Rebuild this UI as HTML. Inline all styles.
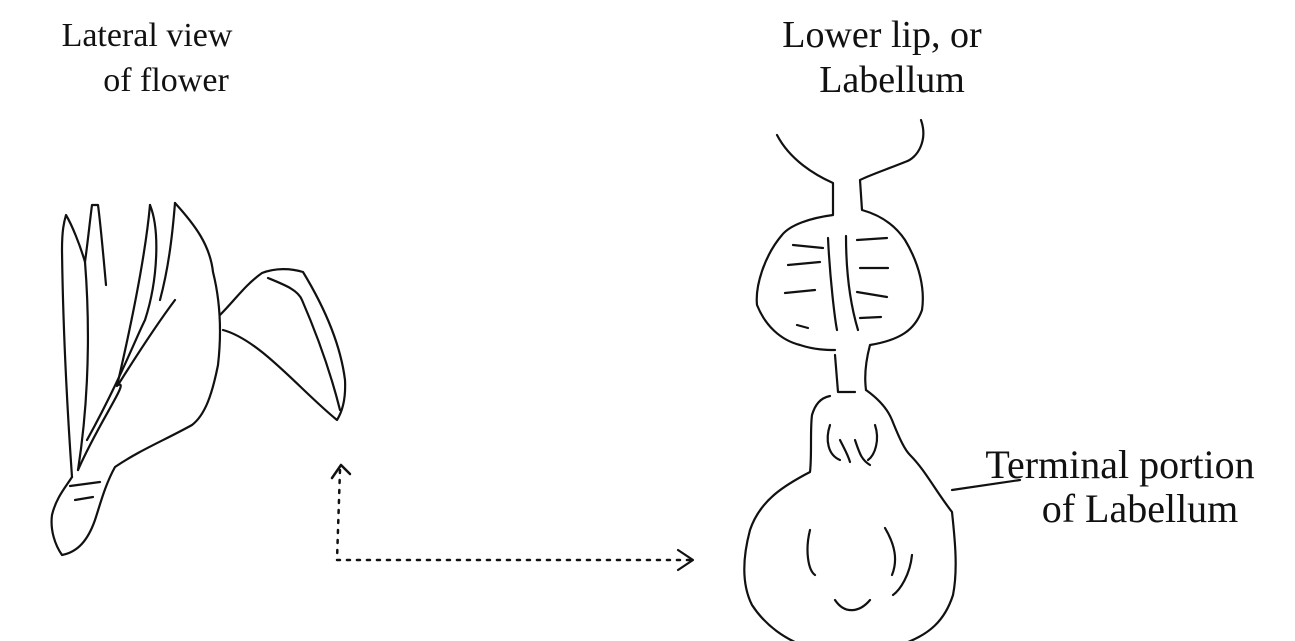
<!DOCTYPE html>
<html><head><meta charset="utf-8"><style>
html,body{margin:0;padding:0;background:#fff}
svg{display:block}
text{font-family:"Liberation Serif",serif;font-size:33px;fill:#111}
</style></head><body>
<svg width="1295" height="641" viewBox="0 0 1295 641">
<g>
<text x="147" y="46" text-anchor="middle" style="font-size:34px">Lateral view</text>
<text x="166" y="91" text-anchor="middle" style="font-size:34px">of flower</text>
</g>
<g style="font-size:38px">
<text x="882" y="47" text-anchor="middle" style="font-size:38px">Lower lip, or</text>
<text x="892" y="92" text-anchor="middle" style="font-size:38px">Labellum</text>
</g>
<g>
<text x="1120" y="478" text-anchor="middle" style="font-size:40px">Terminal portion</text>
<text x="1140" y="522" text-anchor="middle" style="font-size:40px">of Labellum</text>
</g>
<g fill="none" stroke="#111" stroke-width="2.2" stroke-linecap="round" stroke-linejoin="round">
<g>
<path d="M175,203 C195,225 210,245 213,272 C220,300 222,330 218,365 C212,395 205,415 192,425 C165,440 140,450 115,467 C105,485 100,505 95,520 C88,540 78,552 62,555 C55,545 50,530 52,515 C56,498 65,488 72,477"/>
<path d="M72,477 C68,420 63,330 62,250 C62,230 64,222 66,215 C72,225 80,245 85,262 C88,300 92,380 78,470"/>
<path d="M85,262 C88,240 90,220 92,205 L98,205 C100,220 102,240 106,285"/>
<path d="M78,470 C100,420 130,380 118,385 M150,205 C145,260 130,330 117,386"/>
<path d="M150,205 C160,230 158,280 145,320 C135,340 120,380 87,440"/>
<path d="M118,385 C140,350 160,320 175,300 M175,203 C172,240 168,270 160,300"/>
<path d="M70,486 L100,482 M75,500 L93,497"/>
<path d="M220,315 C235,300 245,285 262,273 C275,268 290,268 303,272 C320,300 340,340 345,380 C346,400 342,412 337,420 C300,390 260,340 223,330"/>
<path d="M268,278 C285,285 298,290 302,300 C315,330 330,370 340,410"/>
</g>
<g>
<path d="M340,470 L337,560 L690,560" stroke-dasharray="3,7" stroke-width="2.5"/>
<path d="M332,478 L341,465 L350,474" stroke-width="2.5"/>
<path d="M678,550 L693,560 L678,570" stroke-width="2.2"/>
</g>
<g>
<path d="M777,135 C790,160 815,175 833,183 L833,215 C810,218 790,225 782,235 C765,255 755,285 757,305 C765,325 780,340 800,345 C815,350 828,350 835,350"/>
<path d="M921,120 C928,140 918,158 905,162 C885,170 870,175 860,180 L862,210 C880,215 895,225 905,240 C920,265 925,290 922,310 C915,330 900,340 870,345 C866,360 864,375 866,390"/>
<path d="M866,390 C880,400 888,410 892,420 C900,440 905,450 910,455 C925,470 935,490 952,512 C955,540 958,570 953,595 C945,620 930,635 900,645 C870,652 840,652 810,648 C785,640 765,625 752,605 C742,585 742,560 750,530 C760,500 785,485 810,472 C812,455 810,430 812,415 C815,405 820,398 830,396"/>
<path d="M835,355 L838,392 L855,392"/>
<path d="M828,238 C830,280 835,320 837,330 M846,236 C846,280 852,310 858,330"/>
<path d="M793,245 L823,248 M788,265 L820,262 M785,293 L815,290 M797,325 L808,328 M857,240 L887,238 M860,268 L888,268 M857,292 L887,297 M860,318 L881,317"/>
<path d="M830,425 C825,440 828,455 840,460 M840,440 C845,450 848,455 850,462 M855,440 C860,455 862,460 870,465 M875,425 C880,440 875,455 868,460"/>
<path d="M810,530 C805,550 808,570 815,575 M885,528 C895,545 898,560 892,575 M912,555 C910,575 900,590 893,595 M835,600 C845,615 860,612 870,600"/>
</g>
<path d="M952,490 L1020,480"/>
</g>
</svg>
</body></html>
